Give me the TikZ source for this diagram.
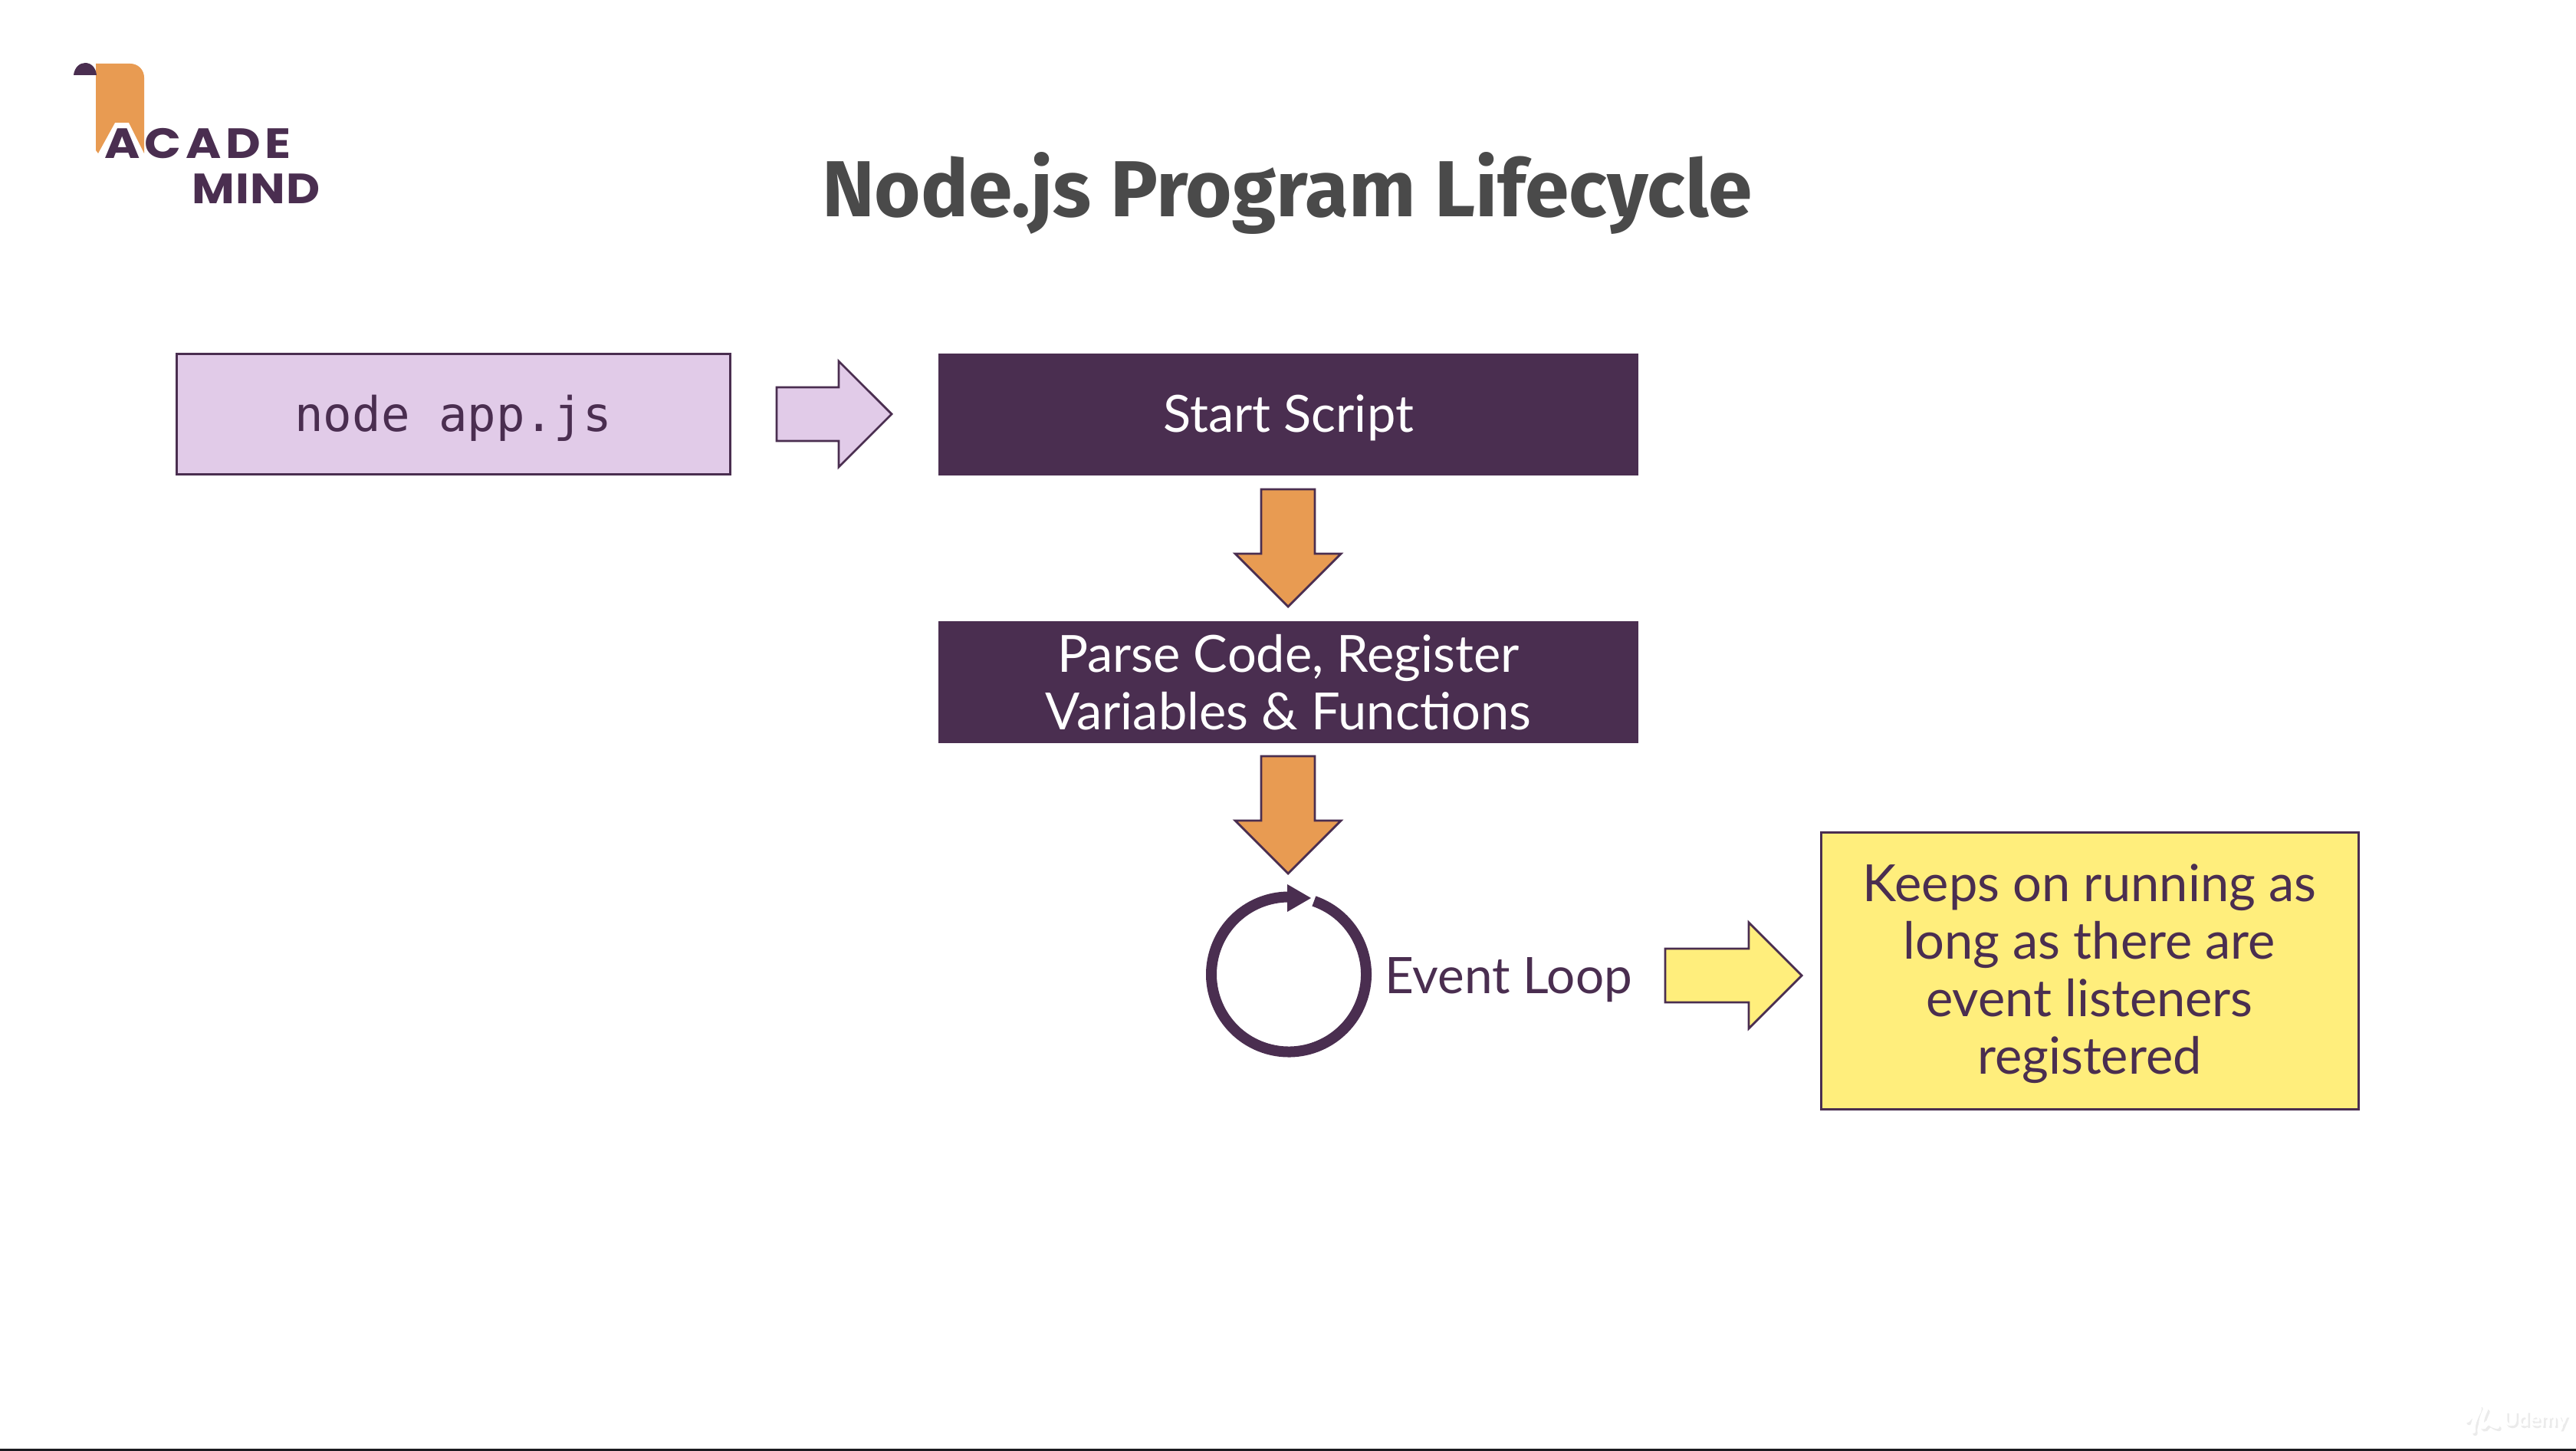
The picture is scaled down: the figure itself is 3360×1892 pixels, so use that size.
\documentclass[tikz,border=0pt]{standalone}
\usepackage{fontspec}
\setmainfont{Lato}
\newfontfamily\titlefont{Fira Sans}
\newfontfamily\monofont{DejaVu Sans Mono}
\newfontfamily\logofonta[LetterSpace=10,FakeStretch=1.14]{Poppins}
\newfontfamily\logofontb[LetterSpace=2,FakeStretch=1.1]{Poppins}
\usetikzlibrary{shapes.arrows}
\definecolor{plum}{HTML}{4A2E50}
\definecolor{lilac}{HTML}{E1CBE8}
\definecolor{amber}{HTML}{E89B52}
\definecolor{lemon}{HTML}{FFEE7C}
\definecolor{ink}{HTML}{4A4A4A}
\definecolor{barcol}{HTML}{1C1C20}
\definecolor{wmgray}{HTML}{EBEBEB}
\tikzset{
  basetext/.style={inner sep=0pt,outer sep=0pt,align=center,font=\fontsize{16.7}{18.75}\selectfont},
  darkbox/.style={basetext,fill=plum,text=white,minimum width=228.25pt,minimum height=39.75pt},
  lightbox/.style={basetext,draw=plum,line width=.75pt,text=plum},
  blockarrow/.style={single arrow,draw=plum,line width=.7pt,inner sep=8.4pt,outer sep=0pt,
    single arrow tip angle=90,single arrow head extend=8.5pt,minimum width=33.8pt,anchor=tip,line join=miter},
  udemylabel/.style={inner sep=0pt,font=\fontsize{6.6}{7}\selectfont\bfseries},
  wmstroke/.style={line width=1.6pt,line cap=round},
}
\begin{document}
\begin{tikzpicture}[x=0.25pt,y=-0.25pt]
\useasboundingbox (0,0) rectangle (3360,1892);
\fill[white] (0,0) rectangle (3360,1892);
\fill[barcol] (0,1889) rectangle (3360,1892);
% logo
\fill[amber] (125,83) -- (170,83) .. controls (180,83) and (188,91) .. (188,101) -- (188,200) -- (168,160) -- (150,160) -- (128,200) -- (125,196) -- cycle;
\fill[plum] (96,98) .. controls (97,88) and (104,82) .. (111,82) .. controls (119,82) and (125,88) .. (126,98) -- cycle;
\node[anchor=base west,inner sep=0pt,text=plum,font=\logofonta\fontsize{13.8}{14}\selectfont\bfseries] (acade) at (136,207) {ACADE};
\node[anchor=base west,inner sep=0pt,text=plum,font=\logofontb\fontsize{13.8}{14}\selectfont\bfseries] (mind) at (250,266) {MIND};
% title
\node[inner sep=0pt,text=ink,font=\titlefont\fontsize{25.9}{28}\selectfont\bfseries] (title) at (1679,252) {Node.js Program Lifecycle};
% boxes
\node[lightbox,fill=lilac,minimum width=180.5pt,minimum height=39.25pt,font=\monofont\fontsize{15.6}{18}\selectfont] (cmd) at (591,540.5) {\rule{0pt}{14pt}node app.js};
\node[darkbox] (start) at (1680.5,540.5) {\rule{0pt}{14.3pt}Start Script};
\node[darkbox] (parse) at (1680.5,889.5) {Parse Code, Register\\Variables \& Functions};
\node[lightbox,fill=lemon,minimum width=175.25pt,minimum height=90.25pt] (note) at (2725.5,1265.5) {\rule{0pt}{14.3pt}Keeps on running as\\long as there are\\event listeners\\registered};
% event loop
\coordinate (loop) at (1681,1270.5);
\draw[plum,line width=3.5pt] (loop) ++(-71:101) arc[start angle=-71,end angle=270,radius=101];
\fill[plum] (1679,1153) -- (1710,1171) -- (1679,1189) -- cycle;
\node[basetext,text=plum,anchor=west,font=\fontsize{16.4}{18.75}\selectfont] (evt) at (1806,1278) {Event Loop};
% block arrows
\node[blockarrow,fill=lilac,minimum height=37.5pt] (a1) at (1163,540) {};
\node[blockarrow,fill=amber,shape border rotate=270,minimum height=38.25pt] (a2) at (1680,791) {};
\node[blockarrow,fill=amber,shape border rotate=270,minimum height=38.25pt] (a3) at (1680,1139) {};
\node[blockarrow,fill=lemon,minimum height=44.5pt] (a4) at (2350,1272) {};
% watermark
\begin{scope}[shift={(2.5,3)}]
\draw[wmgray,wmstroke] (3218,1852) .. controls (3228,1842) and (3236,1830) .. (3233,1840) .. controls (3228,1850) and (3224,1860) .. (3226,1866);
\draw[wmgray,wmstroke] (3242,1838) .. controls (3236,1850) and (3234,1862) .. (3240,1860) .. controls (3248,1850) and (3246,1858) .. (3257,1860);
\node[udemylabel,text=wmgray] (udshade) at (3307,1852) {Udemy};
\end{scope}
\draw[white,wmstroke] (3218,1852) .. controls (3228,1842) and (3236,1830) .. (3233,1840) .. controls (3228,1850) and (3224,1860) .. (3226,1866);
\draw[white,wmstroke] (3242,1838) .. controls (3236,1850) and (3234,1862) .. (3240,1860) .. controls (3248,1850) and (3246,1858) .. (3257,1860);
\node[udemylabel,text=white] (ud) at (3307,1852) {Udemy};
\end{tikzpicture}
\end{document}
